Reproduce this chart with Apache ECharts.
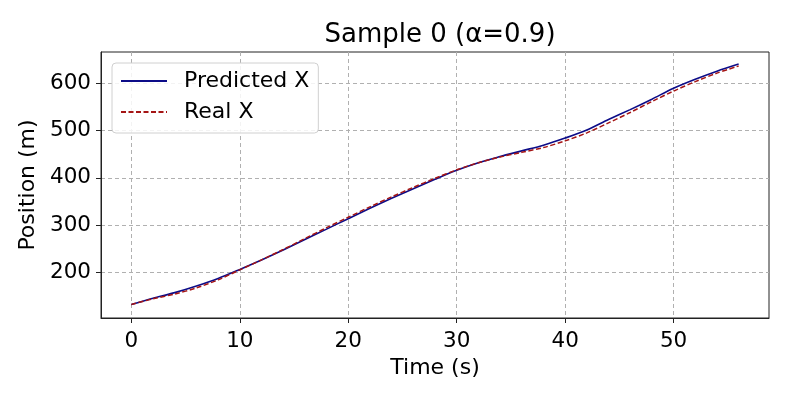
<!DOCTYPE html>
<html>
<head>
<meta charset="utf-8">
<script src="https://cdn.jsdelivr.net/npm/echarts@6/dist/echarts.min.js"></script>
<style>html,body{margin:0;padding:0;background:#fff}#c{width:793px;height:397px}</style>
</head>
<body>
<div id="c"></div>
<script>
const timeS = [0,2,4,6,8,10,12,14,16,18,20,22,24,26,28,30,32,34,36,38,40,42,44,46,48,50,52,54,56];
const predictedX = [133,146,158,172,188,207,227,248,270,292,314,336,357,377,397,416,432,445,457,469,484,501,523,544,566,589,608,625,640];
const realX = [133,145,155,168,185,206,227,249,272,295,317,339,360,380,399,417,432,444,454,464,478,495,516,538,561,583,603,621,636];
const xTicks = [0,10,20,30,40,50];
const yTicks = [200,300,400,500,600];

const FONT = 'DejaVu Sans';
const chart = echarts.init(document.getElementById('c'), null, {renderer:'canvas'});
const pairs = (xs, ys) => xs.map((x,i)=>[x, ys[i]]);
chart.setOption({
  animation:false,
  backgroundColor:'#fff',
  title:{text:'Sample 0 (α=0.9)', left:435, textAlign:'center', top:17,
    textStyle:{fontFamily:FONT, fontSize:26, fontWeight:'normal', color:'#000'}},
  grid:{left:101, right:24, top:52, bottom:79, show:true, borderColor:'#222', borderWidth:1, backgroundColor:'transparent'},
  legend:{
    orient:'vertical', left:112, top:63,
    padding:[6,9,9,8], itemGap:7, itemWidth:46, itemHeight:14,
    backgroundColor:'rgba(255,255,255,0.85)', borderColor:'#d0d0d0', borderWidth:1, borderRadius:4,
    itemStyle:{opacity:0},
    textStyle:{fontFamily:FONT, fontSize:22, color:'#000', lineHeight:24, padding:[0,0,0,12]},
    data:['Predicted X','Real X']
  },
  xAxis:{type:'value', min:-2.8, max:58.8,
    name:'Time (s)', nameLocation:'middle', nameGap:35,
    nameTextStyle:{fontFamily:FONT, fontSize:22, color:'#000'},
    axisLine:{show:true, onZero:false, lineStyle:{color:'#222', width:1}},
    axisTick:{show:true, length:5, inside:false, customValues:xTicks, lineStyle:{color:'#222'}},
    axisLabel:{customValues:xTicks, margin:12, fontFamily:FONT, fontSize:21.5, color:'#000'},
    splitLine:{show:true, lineStyle:{color:'#b0b0b0', type:[4,3], width:1}}
  },
  yAxis:{type:'value', min:104.5, max:665.5,
    name:'Position (m)', nameLocation:'middle', nameGap:57, nameRotate:90,
    nameTextStyle:{fontFamily:FONT, fontSize:22, color:'#000'},
    axisLine:{show:true, onZero:false, lineStyle:{color:'#222', width:1}},
    axisTick:{show:true, length:5, inside:false, customValues:yTicks, lineStyle:{color:'#222'}},
    axisLabel:{customValues:yTicks, margin:10, fontFamily:FONT, fontSize:21.5, color:'#000'},
    splitLine:{show:true, lineStyle:{color:'#b0b0b0', type:[4,3], width:1}}
  },
  series:[
    {name:'Predicted X', type:'line', data:pairs(timeS, predictedX), smooth:0.3, symbol:'none',
      lineStyle:{color:'#0c0c88', width:1.6}, itemStyle:{color:'#0c0c88'}},
    {name:'Real X', type:'line', data:pairs(timeS, realX), smooth:0.3, symbol:'none',
      lineStyle:{color:'#a51515', width:1.5, type:[5,2.5]}, itemStyle:{color:'#a51515'}}
  ]
});
</script>
</body>
</html>
